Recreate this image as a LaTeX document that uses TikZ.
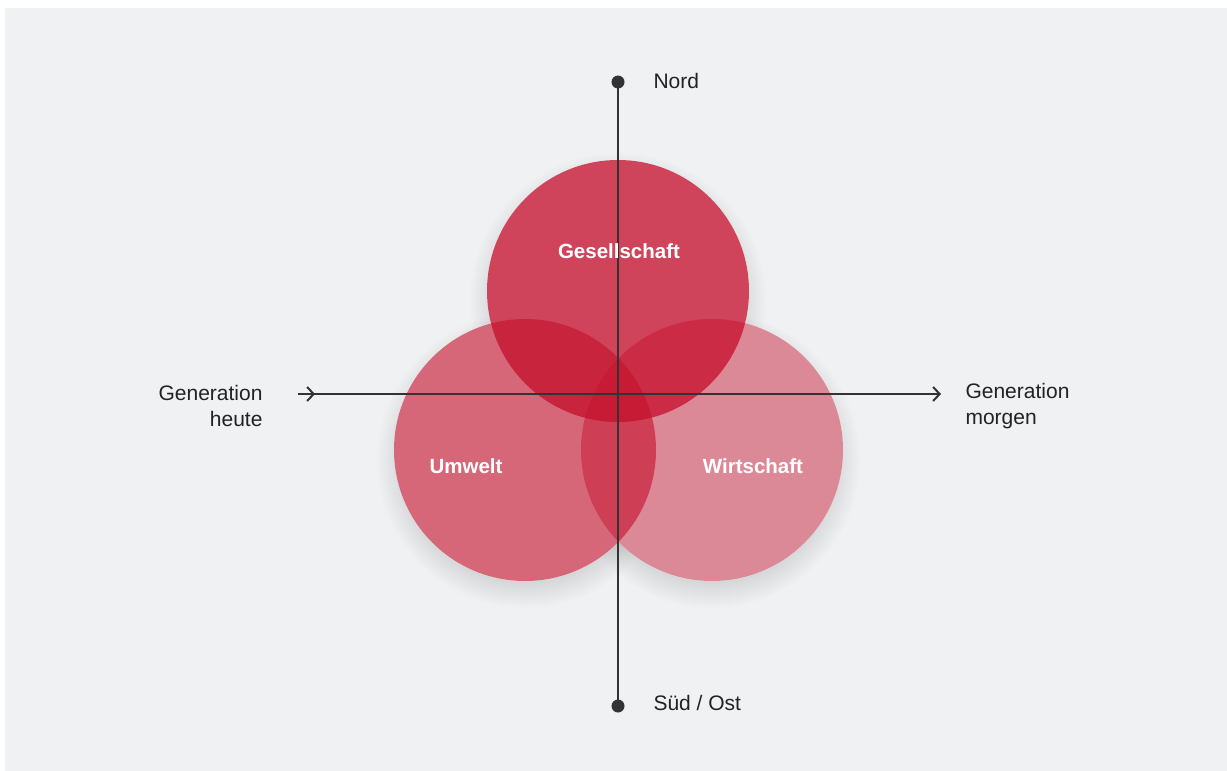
\documentclass[tikz,border=0pt]{standalone}
\usepackage{fontspec}
\setmainfont{Liberation Sans}
\usetikzlibrary{arrows.meta}

\definecolor{bggray}{HTML}{F0F1F3}
\definecolor{axisgray}{HTML}{333333}
\definecolor{crimson}{HTML}{C6102C}
\definecolor{textdark}{HTML}{222222}

\tikzset{
  axisline/.style={draw=axisgray, line width=2pt},
  axisdot/.style={circle, fill=axisgray, inner sep=0pt, minimum size=13pt},
  bubble/.style={circle, inner sep=0pt, minimum size=262pt, fill=crimson},
  bubblelabel/.style={text=white, font=\fontsize{20.5}{24}\selectfont\bfseries},
  axislabel/.style={text=textdark, font=\fontsize{21}{26}\selectfont},
  barb/.style={-{Straight Barb[length=6.5pt,width=14pt,line width=2pt]}}
}

\begin{document}
\begin{tikzpicture}[x=1pt,y=-1pt]
  \useasboundingbox (0,0) rectangle (1227,771);
  \fill[white] (0,0) rectangle (1227,771);
  \fill[bggray] (5,8) rectangle (1240,785);

  % soft shadows below the circles
  \foreach \cx/\cy in {618/291,525/450,712/450}{
    \foreach \r in {0,2,...,24}
      \fill[black, opacity=0.007] (\cx,\cy+10) circle[radius=124+\r];
  }
  \foreach \cx/\cy in {618/291,525/450,712/450}
    \fill[bggray] (\cx,\cy) circle[radius=131];

  % the three circles
  \node[bubble, fill opacity=0.46] (wirtschaft) at (712,450) {};
  \node[bubble, fill opacity=0.61] (umwelt) at (525,450) {};
  \node[bubble, fill opacity=0.77] (gesellschaft) at (618,291) {};

  % axes
  \node[axisdot] (nord) at (618,82) {};
  \node[axisdot] (sued) at (618,706) {};
  \draw[axisline] (nord.center) -- (sued.center);

  \coordinate (heute) at (298,394);
  \coordinate (morgen) at (941,394);
  \draw[axisline, barb] (heute) -- (morgen);
  \draw[axisline, barb] (heute) -- ++(17,0);

  % labels
  \node[bubblelabel] at (619,251) {Gesellschaft};
  \node[bubblelabel] at (466,466) {Umwelt};
  \node[bubblelabel] at (753,466) {Wirtschaft};

  \node[axislabel, anchor=west] at (650,81) {Nord};
  \node[axislabel, anchor=west] at (650,703) {Süd / Ost};
  \node[axislabel, anchor=east, align=right] at (266,406) {Generation\\heute};
  \node[axislabel, anchor=west, align=left] at (962,406) {Generation\\morgen};

\end{tikzpicture}
\end{document}
